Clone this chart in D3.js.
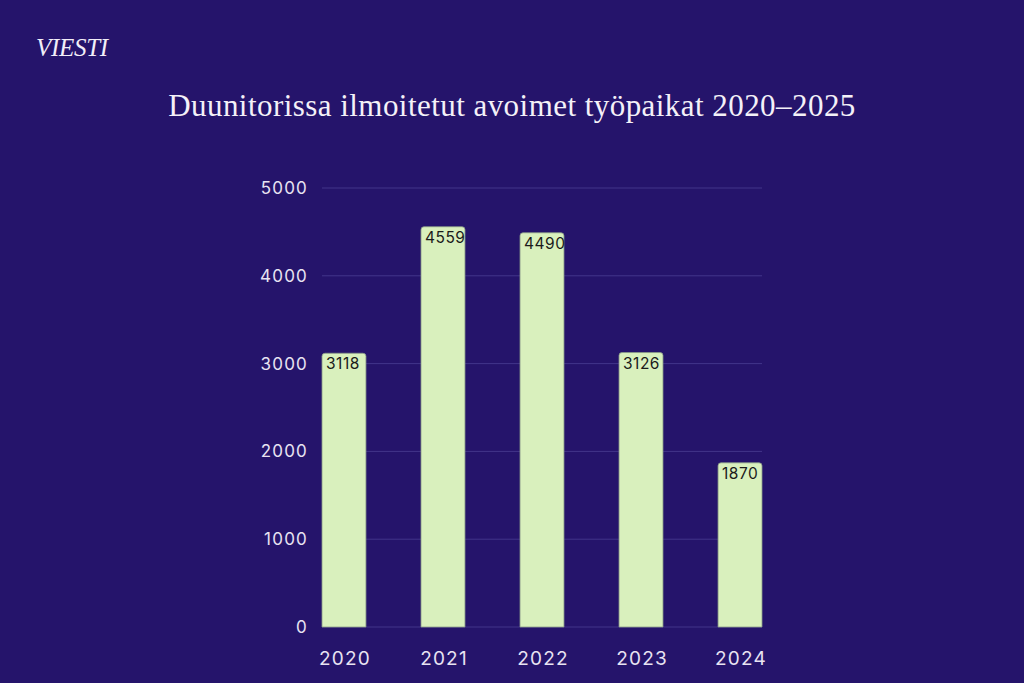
<!DOCTYPE html>
<html><head><meta charset="utf-8">
<script src="https://cdn.jsdelivr.net/npm/d3@7"></script>
<style>
html,body{margin:0;padding:0;background:#25146b;}
svg{display:block;}
</style></head>
<body>
<script>
const years = ["2020","2021","2022","2023","2024"];
const values = [3118,4559,4490,3126,1870];
const yTicks = [0,1000,2000,3000,4000,5000];
const titleText = "Duunitorissa ilmoitetut avoimet työpaikat 2020–2025";
const logoText = "VIESTI";

const W=1024,H=683;
const svg=d3.select("body").append("svg").attr("width",W).attr("height",H);
svg.append("rect").attr("width",W).attr("height",H).attr("fill","#25146b");

svg.append("text").attr("x",36).attr("y",56).text(logoText)
  .attr("font-family","Liberation Serif").attr("font-style","italic")
  .attr("font-size",25).attr("fill","#f2eef8").attr("letter-spacing",-0.3);

svg.append("text").attr("x",512).attr("y",116).attr("text-anchor","middle").text(titleText)
  .attr("font-family","Liberation Serif").attr("font-size",31).attr("letter-spacing",0.45).attr("fill","#f4f1f8");

const x=d3.scaleBand().domain(years).range([322,762]).paddingInner(0.556).paddingOuter(0);
const y=d3.scaleLinear().domain([0,5000]).range([627,188]);

const g=svg.append("g");
g.selectAll("line.grid").data(yTicks).join("line")
  .attr("x1",322).attr("x2",762).attr("y1",d=>y(d)).attr("y2",d=>y(d))
  .attr("stroke","#42358a").attr("stroke-width",1);

const yAxis=d3.axisLeft(y).tickValues(yTicks).tickSize(0).tickPadding(14).tickFormat(d3.format("d"));
const ya=svg.append("g").attr("transform","translate(322,0)").call(yAxis);
ya.select(".domain").remove();
ya.selectAll("text").attr("font-family","Inter").attr("font-size",17).attr("letter-spacing",1.2).attr("fill","#e8e3f2");

const xAxis=d3.axisBottom(x).tickSize(0).tickPadding(25);
const xa=svg.append("g").attr("transform","translate(0,627)").call(xAxis);
xa.select(".domain").remove();
xa.selectAll("text").attr("font-family","Inter").attr("font-size",19).attr("letter-spacing",1.2).attr("dx",1).attr("fill","#e8e3f2");

function topRounded(x0,y0,w,h,r){
  return `M${x0},${y0+h}V${y0+r}Q${x0},${y0} ${x0+r},${y0}H${x0+w-r}Q${x0+w},${y0} ${x0+w},${y0+r}V${y0+h}Z`;
}
g.selectAll("path.bar").data(values).join("path")
  .attr("d",(d,i)=>topRounded(x(years[i]),y(d),x.bandwidth(),y(0)-y(d),3))
  .attr("fill","#d9f0bd").attr("stroke","#8a9a88").attr("stroke-width",0.8);

g.selectAll("text.lbl").data(values).join("text")
  .attr("x",(d,i)=>x(years[i])+4).attr("y",d=>y(d)+16)
  .text(d=>d).attr("font-family","Inter").attr("font-size",15.5).attr("letter-spacing",0.5).attr("fill","#1b1b1b");
</script>
</body></html>
